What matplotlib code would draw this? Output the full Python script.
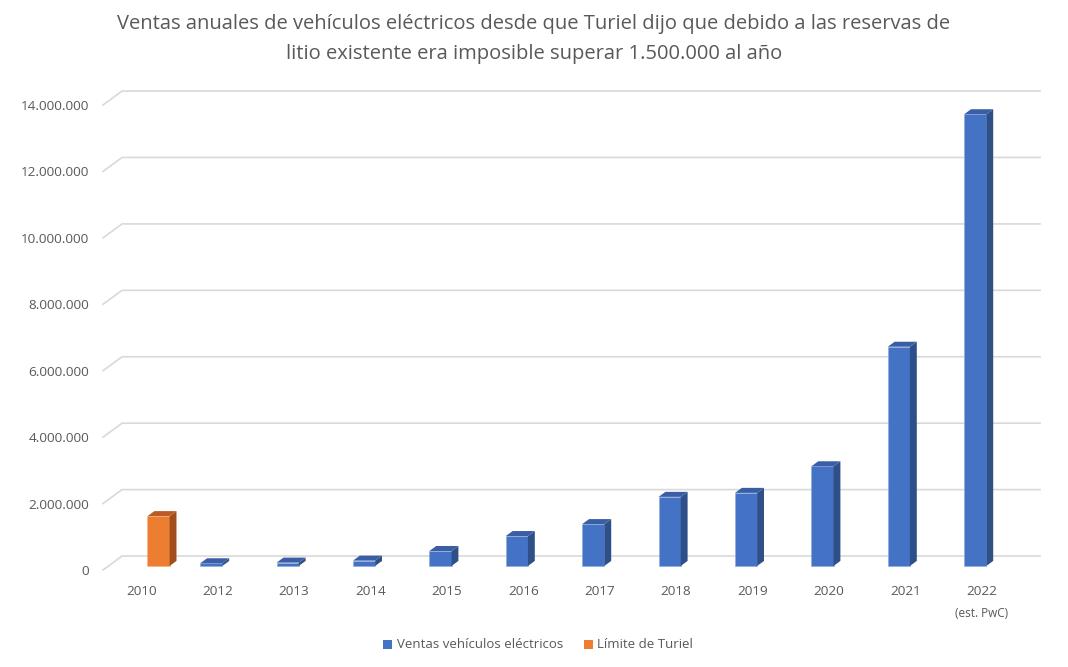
import matplotlib
matplotlib.use('Agg')
import matplotlib.pyplot as plt
from matplotlib.patches import Polygon
from matplotlib.ticker import FuncFormatter

plt.rcParams['font.family'] = ['Open Sans', 'DejaVu Sans']

years = ['2010', '2012', '2013', '2014', '2015', '2016', '2017', '2018',
         '2019', '2020', '2021', '2022']
ventas = [None, 80000, 100000, 160000, 450000, 900000, 1260000, 2080000,
          2200000, 3000000, 6600000, 13600000]
limite = [1500000, None, None, None, None, None, None, None, None, None, None, None]
y_ticks = [0, 2000000, 4000000, 6000000, 8000000, 10000000, 12000000, 14000000]

title = ('Ventas anuales de vehículos eléctricos desde que Turiel dijo que debido a las reservas de\n'
         'litio existente era imposible superar 1.500.000 al año')

# oblique "3D" look: depth offsets (data units) of the back wall
DX = 0.249
DY = 420000
Z0, Z1 = 0.29, 0.65
W = 0.29
OFF = 0.155
grey = '#595959'

fig = plt.figure(figsize=(10.68, 6.67), dpi=100)
# axes: x pixel 103..1040, y pixel 91..570
ax = fig.add_axes([103 / 1068, 1 - 570 / 667, (1040 - 103) / 1068, (570 - 91) / 667])
ax.set_xlim(-0.5, -0.5 + (1040 - 103) / 76.4)
ax.set_ylim(0, (570 - 91) / 465 * 14000000)

# gridlines on the back wall with a diagonal on the floor/side
for v in y_ticks:
    ax.plot([-0.5, -0.5 + DX, ax.get_xlim()[1]], [v, v + DY, v + DY],
            color='#d9d9d9', lw=1.2, clip_on=False, zorder=1)


def bar3d(xc, v, front, side, top, edge):
    x0 = xc - W / 2 + Z0 * DX
    x1 = xc + W / 2 + Z0 * DX
    y0 = Z0 * DY
    y1 = y0 + v
    ddx = (Z1 - Z0) * DX
    ddy = (Z1 - Z0) * DY
    ax.add_patch(Polygon([(x0, y0), (x1, y0), (x1, y1), (x0, y1)], closed=True,
                         facecolor=front, edgecolor=edge, lw=0.4, zorder=3, clip_on=False))
    ax.add_patch(Polygon([(x1, y0), (x1 + ddx, y0 + ddy), (x1 + ddx, y1 + ddy), (x1, y1)],
                         closed=True, facecolor=side, edgecolor='none', zorder=3, clip_on=False))
    ax.add_patch(Polygon([(x0, y1), (x1, y1), (x1 + ddx, y1 + ddy), (x0 + ddx, y1 + ddy)],
                         closed=True, facecolor=top, edgecolor='none', zorder=3, clip_on=False))


for i in range(len(years)):
    if ventas[i] is not None:
        bar3d(i - OFF, ventas[i], '#4472c4', '#2f4f88', '#3a5ea5', '#8faadc')
    if limite[i] is not None:
        bar3d(i + OFF, limite[i], '#ed7d31', '#a04f1c', '#bb5c22', '#f4b183')

ax.set_yticks(y_ticks)
ax.yaxis.set_major_formatter(FuncFormatter(lambda v, p: f'{int(v):,}'.replace(',', '.')))
ax.set_xticks(range(len(years)))
ax.set_xticklabels(years)
ax.tick_params(axis='both', length=0, colors=grey, labelsize=9.7)
ax.tick_params(axis='y', pad=10)
ax.tick_params(axis='x', pad=10.5)
for s in ax.spines.values():
    s.set_visible(False)
ax.text(11, -1100000, '(est. PwC)', ha='center', va='top', fontsize=8.5, color=grey)

fig.text(0.5, 1 - 39 / 667, title, ha='center', va='center', fontsize=14.5,
         color=grey, linespacing=1.62)

# legend
ly = 1 - 644 / 667
fig.patches.append(matplotlib.patches.Rectangle((383 / 1068, ly - 4.5 / 667), 9 / 1068, 9 / 667,
                   transform=fig.transFigure, facecolor='#4472c4', edgecolor='none'))
fig.text(397 / 1068, ly, 'Ventas vehículos eléctricos', ha='left', va='center',
         fontsize=9.5, color=grey)
fig.patches.append(matplotlib.patches.Rectangle((584 / 1068, ly - 4.5 / 667), 9 / 1068, 9 / 667,
                   transform=fig.transFigure, facecolor='#ed7d31', edgecolor='none'))
fig.text(597 / 1068, ly, 'Límite de Turiel', ha='left', va='center', fontsize=9.5, color=grey)

fig.savefig('out.png', dpi=100)
